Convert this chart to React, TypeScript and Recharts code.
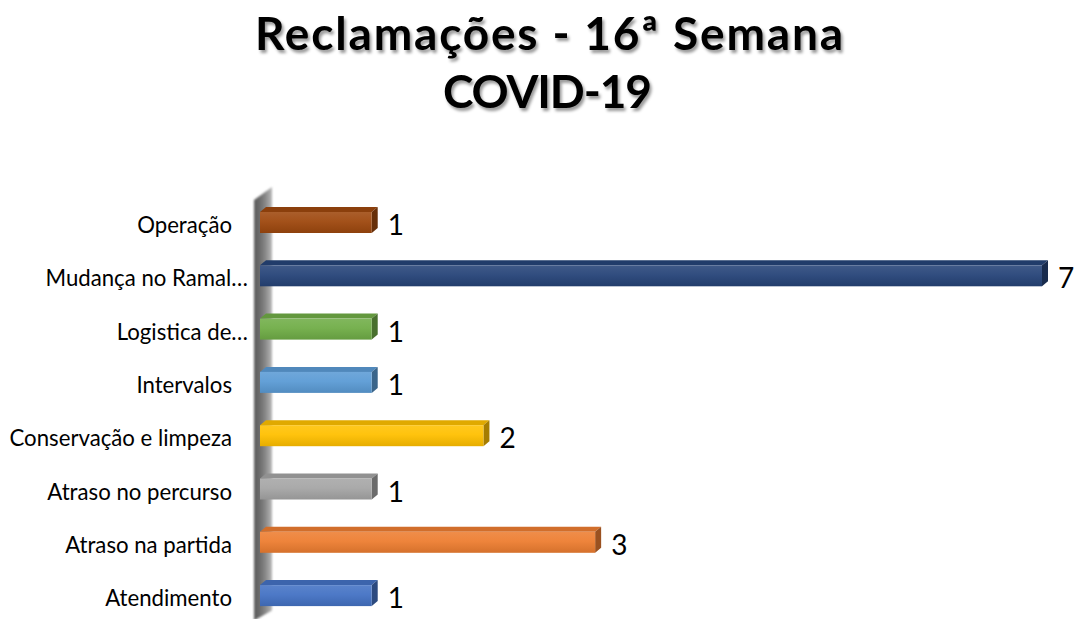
import React from 'react';
import * as Recharts from 'recharts';
import { BarChart, Bar, XAxis, YAxis, Cell, LabelList } from 'recharts';

const categories = [
  'Operação',
  'Mudança no Ramal…',
  'Logistica de…',
  'Intervalos',
  'Conservação e limpeza',
  'Atraso no percurso',
  'Atraso na partida',
  'Atendimento',
];
const values = [1, 7, 1, 1, 2, 1, 3, 1];
const colors = ['#9E480E', '#264478', '#70AD47', '#5B9BD5', '#FFC000', '#A5A5A5', '#ED7D31', '#4472C4'];
const titleLines = ['Reclamações - 16ª Semana', 'COVID-19'];

const data = categories.map((name, i) => ({ name, value: values[i] }));

const W = 1078;
const CH = 630;
const margin = { top: 196, right: 36, bottom: 7.6, left: 0 };
const DX = 6;
const DY = 5;

function shade(hex: string, amt: number) {
  const n = parseInt(hex.slice(1), 16);
  let r = (n >> 16) & 255, g = (n >> 8) & 255, b = n & 255;
  const f = (c: number) => {
    const v = amt >= 0 ? c + (255 - c) * amt : c * (1 + amt);
    return Math.max(0, Math.min(255, Math.round(v)));
  };
  r = f(r); g = f(g); b = f(b);
  return '#' + ((1 << 24) + (r << 16) + (g << 8) + b).toString(16).slice(1);
}

const Bar3D = (props: any) => {
  const { x, y, width, height, index } = props;
  const c = colors[index % colors.length];
  const id = `barg${index}`;
  return (
    <g>
      <defs>
        <linearGradient id={id} x1="0" y1="0" x2="0" y2="1">
          <stop offset="0%" stopColor={shade(c, 0.12)} />
          <stop offset="45%" stopColor={shade(c, 0.05)} />
          <stop offset="100%" stopColor={shade(c, -0.1)} />
        </linearGradient>
      </defs>
      <polygon
        points={`${x},${y} ${x + DX},${y - DY} ${x + width + DX},${y - DY} ${x + width},${y}`}
        fill={shade(c, -0.12)}
      />
      <polygon
        points={`${x + width},${y} ${x + width + DX},${y - DY} ${x + width + DX},${y + height - DY} ${x + width},${y + height}`}
        fill={shade(c, -0.35)}
      />
      <rect x={x} y={y} width={width} height={height} fill={`url(#${id})`} />
    </g>
  );
};

const usePlotAreaSafe: () => any = (Recharts as any).usePlotArea || (() => null);

const Wall = () => {
  const area = usePlotAreaSafe();
  const left = area ? area.x : margin.left + 260;
  const top = area ? area.y : margin.top;
  const bottom = area ? area.y + area.height : CH - margin.bottom;
  const x0 = left - 6;
  const x1 = left + 12;
  return (
    <g>
      <defs>
        <linearGradient id="wallg" x1="0" y1="0" x2="1" y2="0">
          <stop offset="0%" stopColor="#5a5a5a" />
          <stop offset="30%" stopColor="#6a6a6a" />
          <stop offset="60%" stopColor="#858585" />
          <stop offset="100%" stopColor="#b8b8b8" />
        </linearGradient>
        <filter id="wallblur" x="-50%" y="-5%" width="200%" height="110%">
          <feGaussianBlur stdDeviation="0.8" />
        </filter>
      </defs>
      <polygon
        points={`${x0},${top + 4} ${x1},${top - 9} ${x1},${bottom - 12} ${x0},${bottom - 2}`}
        fill="url(#wallg)"
        filter="url(#wallblur)"
      />
    </g>
  );
};

const CategoryTick = (props: any) => {
  const { x, y, payload } = props;
  const label: string = payload.value;
  const truncated = label.endsWith('…');
  return (
    <text
      x={truncated ? x : x - 16}
      y={y + 10.5}
      textAnchor="end"
      fontFamily="Lato, 'Open Sans', sans-serif"
      fontSize={22.2}
      fill="#000"
    >
      {label}
    </text>
  );
};

const ValueLabel = (props: any) => {
  const { x, y, width, height, value } = props;
  return (
    <text
      x={x + width + 16}
      y={y + height / 2 + 12.5}
      fontFamily="Lato, 'Open Sans', sans-serif"
      fontSize={28}
      fill="#000"
    >
      {value}
    </text>
  );
};

export default function App() {
  return (
    <div
      style={{
        position: 'absolute',
        left: 0,
        top: 0,
        width: W,
        height: 619,
        overflow: 'hidden',
        background: '#fff',
      }}
    >
      <BarChart width={W} height={CH} data={data} layout="vertical" margin={margin}>
        <XAxis type="number" domain={[0, 7]} hide />
        <YAxis
          type="category"
          dataKey="name"
          width={260}
          axisLine={false}
          tickLine={false}
          tickSize={0}
          tickMargin={12}
          tick={<CategoryTick />}
          interval={0}
        />
        <Wall />
        <Bar dataKey="value" barSize={21} shape={<Bar3D />} isAnimationActive={false}>
          {data.map((d, i) => (
            <Cell key={d.name} fill={colors[i]} />
          ))}
          <LabelList dataKey="value" content={<ValueLabel />} />
        </Bar>
      </BarChart>
      <svg
        width={W}
        height={130}
        style={{ position: 'absolute', left: 0, top: 0, pointerEvents: 'none' }}
      >
        <defs>
          <filter id="tshadow" x="-5%" y="-20%" width="110%" height="150%">
            <feDropShadow dx="2" dy="3" stdDeviation="1.8" floodColor="#000" floodOpacity="0.4" />
          </filter>
        </defs>
        <g filter="url(#tshadow)" fontFamily="Lato, 'Open Sans', sans-serif" fontWeight={700} fontSize={46} fill="#000">
          <text x={255} y={50} textLength={588} lengthAdjust="spacing">
            {titleLines[0]}
          </text>
          <text x={443} y={108} textLength={209} lengthAdjust="spacing">
            {titleLines[1]}
          </text>
        </g>
      </svg>
    </div>
  );
}
